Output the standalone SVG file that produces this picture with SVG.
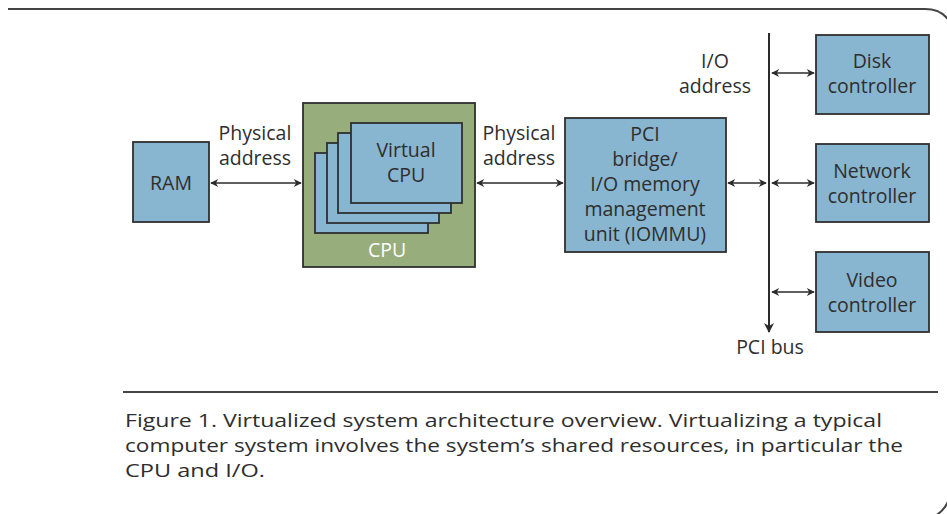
<svg xmlns="http://www.w3.org/2000/svg" width="947" height="514" viewBox="0 0 947 514">
<defs>
<marker id="ah" viewBox="0 0 10 10" refX="9" refY="5" markerWidth="9" markerHeight="8" orient="auto-start-reverse" markerUnits="userSpaceOnUse">
<path d="M0,0 L10,5 L0,10 L3,5 z" fill="#2b2b2b"/>
</marker>
<marker id="ah2" viewBox="0 0 10 10" refX="9" refY="5" markerWidth="10" markerHeight="10" orient="auto" markerUnits="userSpaceOnUse">
<path d="M0,0 L10,5 L0,10 L3,5 z" fill="#2b2b2b"/>
</marker>
</defs>
<style>
.box{fill:#88b5cf;stroke:#2f2f2f;stroke-width:1.8}
.cpu{fill:#97ad7b;stroke:#2f2f2f;stroke-width:1.8}
.t{font-family:"Open Sans","Liberation Sans",sans-serif;font-size:19.5px;fill:#2e2e2e;text-anchor:middle}
.w{fill:#ffffff}
.cap{font-family:"Open Sans","Liberation Sans",sans-serif;font-size:19px;fill:#2e2e2e}
.c{stroke:#2b2b2b;stroke-width:1.6;fill:none}
.frame{stroke:#444;stroke-width:2;fill:none}
</style>
<rect x="0" y="0" width="947" height="514" fill="#ffffff"/>
<g id="frame">
<path class="frame" d="M8 9 H925 Q942 9 950 22"/>
<path class="frame" d="M952 488 Q949 508 935 516"/>
<line x1="123" y1="392" x2="938" y2="392" stroke="#444" stroke-width="1.8"/>
</g>
<g id="connectors">
<line class="c" x1="211" y1="183" x2="301" y2="183" marker-start="url(#ah)" marker-end="url(#ah)"/>
<line class="c" x1="477" y1="183" x2="563" y2="183" marker-start="url(#ah)" marker-end="url(#ah)"/>
<line class="c" x1="728" y1="183" x2="766" y2="183" marker-start="url(#ah)" marker-end="url(#ah)"/>
<line class="c" x1="772" y1="73" x2="814" y2="73" marker-start="url(#ah)" marker-end="url(#ah)"/>
<line class="c" x1="772" y1="183" x2="814" y2="183" marker-start="url(#ah)" marker-end="url(#ah)"/>
<line class="c" x1="772" y1="292" x2="814" y2="292" marker-start="url(#ah)" marker-end="url(#ah)"/>
<line x1="769" y1="33" x2="769" y2="332" stroke="#2b2b2b" stroke-width="2" marker-end="url(#ah2)"/>
<text class="t" x="255" y="140">Physical</text>
<text class="t" x="255" y="165">address</text>
<text class="t" x="519" y="140">Physical</text>
<text class="t" x="519" y="165">address</text>
<text class="t" x="715" y="68">I/O</text>
<text class="t" x="715" y="93">address</text>
<text class="t" x="770" y="354">PCI bus</text>
</g>
<g id="ram">
<rect class="box" x="133" y="142" width="76" height="80"/>
<text class="t" x="171" y="190">RAM</text>
</g>
<g id="cpu">
<rect class="cpu" x="303" y="103" width="172" height="164"/>
<rect class="box" x="315" y="153" width="113" height="80"/>
<rect class="box" x="327" y="143" width="112" height="80"/>
<rect class="box" x="338" y="133" width="113" height="80"/>
<rect class="box" x="351" y="123" width="111" height="80"/>
<text class="t" x="406" y="157">Virtual</text>
<text class="t" x="406" y="182">CPU</text>
<text class="t w" x="387" y="257">CPU</text>
</g>
<g id="pci">
<rect class="box" x="565" y="118" width="161" height="134"/>
<text class="t" x="645" y="141">PCI</text>
<text class="t" x="645" y="166">bridge/</text>
<text class="t" x="645" y="191">I/O memory</text>
<text class="t" x="645" y="216">management</text>
<text class="t" x="645" y="241">unit (IOMMU)</text>
</g>
<g id="disk">
<rect class="box" x="816" y="35" width="113" height="79"/>
<text class="t" x="872" y="68">Disk</text>
<text class="t" x="872" y="93">controller</text>
</g>
<g id="network">
<rect class="box" x="816" y="144" width="113" height="78"/>
<text class="t" x="872" y="178">Network</text>
<text class="t" x="872" y="203">controller</text>
</g>
<g id="video">
<rect class="box" x="816" y="252" width="113" height="80"/>
<text class="t" x="872" y="287">Video</text>
<text class="t" x="872" y="312">controller</text>
</g>
<g id="caption">
<text class="cap" x="125" y="427" textLength="757" lengthAdjust="spacingAndGlyphs">Figure 1. Virtualized system architecture overview. Virtualizing a typical</text>
<text class="cap" x="125" y="452" textLength="778" lengthAdjust="spacingAndGlyphs">computer system involves the system’s shared resources, in particular the</text>
<text class="cap" x="125" y="477" textLength="140" lengthAdjust="spacingAndGlyphs">CPU and I/O.</text>
</g>
</svg>
